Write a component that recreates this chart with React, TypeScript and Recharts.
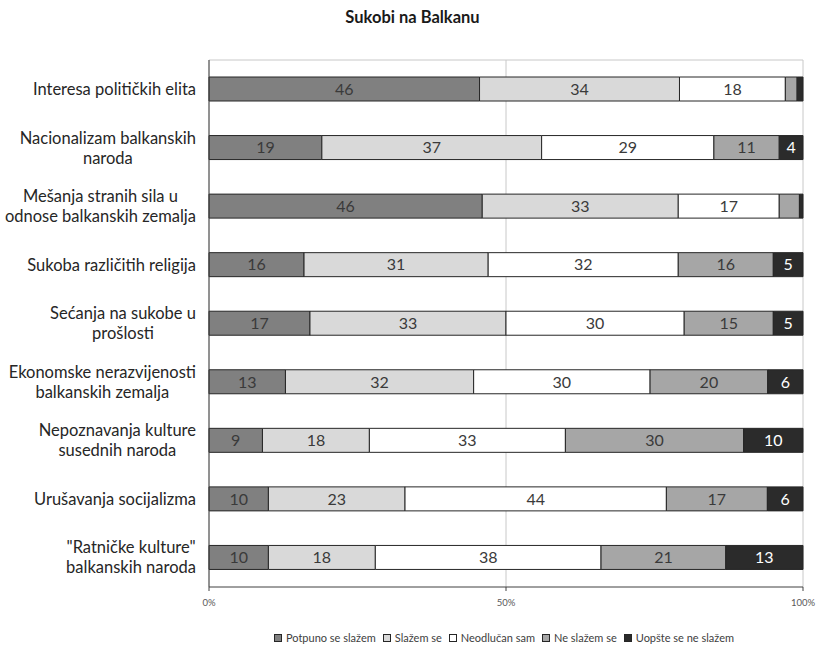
import React from "react";
import {
  BarChart,
  Bar,
  XAxis,
  YAxis,
  CartesianGrid,
  LabelList,
} from "recharts";

// Survey items (line breaks mark the wrapped axis labels)
const categories = [
  "Interesa političkih elita",
  "Nacionalizam balkanskih\nnaroda",
  "Mešanja stranih sila u\nodnose balkanskih zemalja",
  "Sukoba različitih religija",
  "Sećanja na sukobe u\nprošlosti",
  "Ekonomske nerazvijenosti\nbalkanskih zemalja",
  "Nepoznavanja kulture\nsusednih naroda",
  "Urušavanja socijalizma",
  "\"Ratničke kulture\"\nbalkanskih naroda",
];

// Answer shares (%) per item
const potpunoSeSlazem = [46, 19, 46, 16, 17, 13, 9, 10, 10];
const slazemSe = [34, 37, 33, 31, 33, 32, 18, 23, 18];
const neodlucanSam = [18, 29, 17, 32, 30, 30, 33, 44, 38];
const neSlazemSe = [2, 11, 3.4, 16, 15, 20, 30, 17, 21];
const uopsteSeNeSlazem = [1, 4, 0.6, 5, 5, 6, 10, 6, 13];

const xTicks = [0, 0.5, 1];

const series = [
  { key: "p", name: "Potpuno se slažem", values: potpunoSeSlazem, color: "#808080", text: "#3a3a3a" },
  { key: "s", name: "Slažem se", values: slazemSe, color: "#d9d9d9", text: "#3a3a3a" },
  { key: "n", name: "Neodlučan sam", values: neodlucanSam, color: "#ffffff", text: "#3a3a3a" },
  { key: "ns", name: "Ne slažem se", values: neSlazemSe, color: "#a6a6a6", text: "#3a3a3a" },
  { key: "u", name: "Uopšte se ne slažem", values: uopsteSeNeSlazem, color: "#2b2b2b", text: "#ffffff" },
];

const data = categories.map((name, i) => {
  const row: Record<string, string | number> = { name };
  series.forEach((s) => {
    row[s.key] = s.values[i];
  });
  return row;
});

const FONT = "Lato, 'Open Sans', sans-serif";
const CAT_FONT_SIZE = 16.5;

let measureCtx: CanvasRenderingContext2D | null = null;
function textWidth(t: string, size: number): number {
  if (typeof document === "undefined") return t.length * size * 0.5;
  if (!measureCtx) measureCtx = document.createElement("canvas").getContext("2d");
  if (!measureCtx) return t.length * size * 0.5;
  measureCtx.font = `${size}px Lato`;
  return measureCtx.measureText(t).width;
}

// Category label: block right-aligned to the axis, lines centred within the block
const CategoryTick = (props: any) => {
  const { x, y, payload } = props;
  const lines: string[] = String(payload.value).split("\n");
  const maxW = Math.max(...lines.map((l) => textWidth(l, CAT_FONT_SIZE)));
  const cx = x - maxW / 2;
  const lh = 20;
  const startY = y - ((lines.length - 1) * lh) / 2;
  return (
    <g>
      {lines.map((l, i) => (
        <text
          key={i}
          x={cx}
          y={startY + i * lh}
          dy="0.35em"
          textAnchor="middle"
          fontFamily={FONT}
          fontSize={CAT_FONT_SIZE}
          fill="#262626"
        >
          {l}
        </text>
      ))}
    </g>
  );
};

const makeValueLabel = (textColor: string) => (props: any) => {
  const { x, y, width, height, value } = props;
  if (value == null || value < 4) return null;
  return (
    <text
      x={x + width / 2}
      y={y + height / 2}
      dy="0.36em"
      textAnchor="middle"
      fontFamily={FONT}
      fontSize={16}
      fill={textColor}
    >
      {value}
    </text>
  );
};

export default function App() {
  return (
    <div
      style={{
        position: "absolute",
        left: 0,
        top: 0,
        width: 818,
        height: 647,
        background: "#ffffff",
        fontFamily: FONT,
      }}
    >
      <div
        style={{
          position: "absolute",
          top: 7,
          left: 0,
          width: 818,
          textAlign: "center",
          fontWeight: 700,
          fontSize: 16.5,
          color: "#1a1a1a",
          paddingLeft: 7,
          boxSizing: "border-box",
        }}
      >
        Sukobi na Balkanu
      </div>
      <BarChart
        width={818}
        height={647}
        data={data}
        layout="vertical"
        stackOffset="expand"
        barSize={24}
        margin={{ top: 60, right: 15, bottom: 30, left: 0 }}
      >
        <CartesianGrid
          stroke="#c8c8c8"
          horizontalCoordinatesGenerator={({ offset }: any) => [offset.top]}
        />
        <XAxis
          type="number"
          domain={[0, 1]}
          ticks={xTicks}
          tickFormatter={(v: number) => `${Math.round(v * 100)}%`}
          axisLine={{ stroke: "#404040" }}
          tickLine={{ stroke: "#404040" }}
          tickSize={4}
          tickMargin={8}
          height={30}
          tick={{ fontSize: 9.5, fill: "#595959", fontFamily: FONT }}
        />
        <YAxis
          type="category"
          dataKey="name"
          width={209}
          axisLine={{ stroke: "#404040" }}
          tickLine={false}
          tickSize={0}
          tickMargin={13}
          tick={<CategoryTick />}
          interval={0}
        />
        {series.map((s) => (
          <Bar
            key={s.key}
            dataKey={s.key}
            name={s.name}
            stackId="a"
            fill={s.color}
            stroke="#262626"
            strokeWidth={1}
            isAnimationActive={false}
          >
            <LabelList dataKey={s.key} content={makeValueLabel(s.text)} />
          </Bar>
        ))}
      </BarChart>
      <div
        style={{
          position: "absolute",
          top: 632,
          left: 0,
          width: 818,
          display: "flex",
          justifyContent: "center",
          paddingLeft: 197,
          boxSizing: "border-box",
          fontSize: 11,
          color: "#404040",
          lineHeight: "12px",
        }}
      >
        {series.map((s) => (
          <span
            key={s.key}
            style={{ display: "inline-flex", alignItems: "center", marginRight: 7 }}
          >
            <span
              style={{
                display: "inline-block",
                width: 6,
                height: 6,
                background: s.color,
                border: "1px solid #262626",
                marginRight: 4,
              }}
            />
            {s.name}
          </span>
        ))}
      </div>
    </div>
  );
}
